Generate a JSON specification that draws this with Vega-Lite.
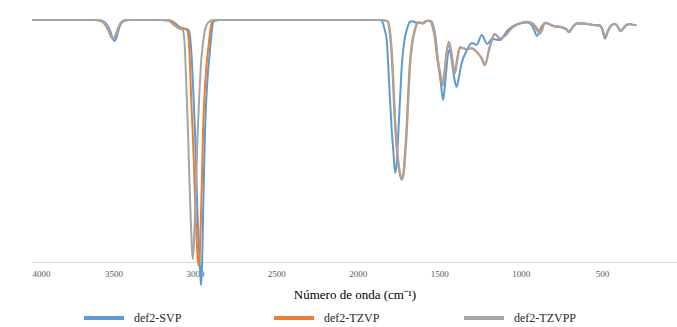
{
"$schema": "https://vega.github.io/schema/vega-lite/v6.json",
"width": 645, "height": 242,
"autosize": {"type": "none"},
"padding": {"left": 32, "top": 20, "right": 0, "bottom": 65},
"background": "white",
"config": {"view": {"stroke": null}},
"data": {"values": [
{"s":"def2-SVP","wn":4000,"t":100},{"s":"def2-SVP","wn":3600,"t":100},{"s":"def2-SVP","wn":3570,"t":99.7},{"s":"def2-SVP","wn":3545,"t":98.5},{"s":"def2-SVP","wn":3520,"t":95.5},{"s":"def2-SVP","wn":3505,"t":92.5},{"s":"def2-SVP","wn":3494,"t":91.3},{"s":"def2-SVP","wn":3482,"t":92.6},{"s":"def2-SVP","wn":3468,"t":96},{"s":"def2-SVP","wn":3450,"t":98.8},{"s":"def2-SVP","wn":3425,"t":99.9},{"s":"def2-SVP","wn":3400,"t":100},{"s":"def2-SVP","wn":3200,"t":100},{"s":"def2-SVP","wn":3150,"t":99.8},{"s":"def2-SVP","wn":3120,"t":98.6},{"s":"def2-SVP","wn":3095,"t":97.2},{"s":"def2-SVP","wn":3070,"t":96.5},{"s":"def2-SVP","wn":3045,"t":96.1},{"s":"def2-SVP","wn":3036,"t":95.5},{"s":"def2-SVP","wn":3028,"t":92},{"s":"def2-SVP","wn":3020,"t":85},{"s":"def2-SVP","wn":3012,"t":74},{"s":"def2-SVP","wn":3005,"t":63},{"s":"def2-SVP","wn":2999,"t":53.3},{"s":"def2-SVP","wn":2992,"t":38},{"s":"def2-SVP","wn":2985,"t":22},{"s":"def2-SVP","wn":2978,"t":10},{"s":"def2-SVP","wn":2972,"t":1},{"s":"def2-SVP","wn":2966,"t":-6},{"s":"def2-SVP","wn":2962,"t":-9.5},{"s":"def2-SVP","wn":2958,"t":-5},{"s":"def2-SVP","wn":2955,"t":1},{"s":"def2-SVP","wn":2950,"t":18},{"s":"def2-SVP","wn":2944,"t":37},{"s":"def2-SVP","wn":2938,"t":53.3},{"s":"def2-SVP","wn":2930,"t":67},{"s":"def2-SVP","wn":2920,"t":78},{"s":"def2-SVP","wn":2907,"t":87.6},{"s":"def2-SVP","wn":2897,"t":95},{"s":"def2-SVP","wn":2889,"t":98.8},{"s":"def2-SVP","wn":2875,"t":99.8},{"s":"def2-SVP","wn":2850,"t":100},{"s":"def2-SVP","wn":1870,"t":100},{"s":"def2-SVP","wn":1853,"t":99.7},{"s":"def2-SVP","wn":1835,"t":96},{"s":"def2-SVP","wn":1822,"t":91.7},{"s":"def2-SVP","wn":1812,"t":80},{"s":"def2-SVP","wn":1802,"t":66.9},{"s":"def2-SVP","wn":1792,"t":55},{"s":"def2-SVP","wn":1782,"t":46.3},{"s":"def2-SVP","wn":1771,"t":36.8},{"s":"def2-SVP","wn":1762,"t":40},{"s":"def2-SVP","wn":1751,"t":53.3},{"s":"def2-SVP","wn":1740,"t":68},{"s":"def2-SVP","wn":1730,"t":80.6},{"s":"def2-SVP","wn":1715,"t":91},{"s":"def2-SVP","wn":1699,"t":95.9},{"s":"def2-SVP","wn":1679,"t":99.3},{"s":"def2-SVP","wn":1661,"t":99.5},{"s":"def2-SVP","wn":1645,"t":99},{"s":"def2-SVP","wn":1628,"t":98.9},{"s":"def2-SVP","wn":1599,"t":98.8},{"s":"def2-SVP","wn":1585,"t":99.3},{"s":"def2-SVP","wn":1569,"t":99.7},{"s":"def2-SVP","wn":1546,"t":99.3},{"s":"def2-SVP","wn":1536,"t":97.5},{"s":"def2-SVP","wn":1526,"t":94.6},{"s":"def2-SVP","wn":1508,"t":83.5},{"s":"def2-SVP","wn":1490,"t":74},{"s":"def2-SVP","wn":1476,"t":66.9},{"s":"def2-SVP","wn":1462,"t":75},{"s":"def2-SVP","wn":1448,"t":85},{"s":"def2-SVP","wn":1436,"t":87.6},{"s":"def2-SVP","wn":1420,"t":82},{"s":"def2-SVP","wn":1405,"t":75},{"s":"def2-SVP","wn":1393,"t":72.4},{"s":"def2-SVP","wn":1380,"t":76},{"s":"def2-SVP","wn":1362,"t":82.2},{"s":"def2-SVP","wn":1335,"t":86.8},{"s":"def2-SVP","wn":1300,"t":90.5},{"s":"def2-SVP","wn":1270,"t":89.7},{"s":"def2-SVP","wn":1239,"t":93.8},{"s":"def2-SVP","wn":1206,"t":90.1},{"s":"def2-SVP","wn":1176,"t":92.2},{"s":"def2-SVP","wn":1126,"t":91.7},{"s":"def2-SVP","wn":1083,"t":95.5},{"s":"def2-SVP","wn":1022,"t":98.3},{"s":"def2-SVP","wn":961,"t":99},{"s":"def2-SVP","wn":932,"t":97.9},{"s":"def2-SVP","wn":915,"t":95.5},{"s":"def2-SVP","wn":901,"t":93.4},{"s":"def2-SVP","wn":888,"t":94.5},{"s":"def2-SVP","wn":875,"t":96.8},{"s":"def2-SVP","wn":858,"t":98.5},{"s":"def2-SVP","wn":849,"t":98.9},{"s":"def2-SVP","wn":830,"t":98.4},{"s":"def2-SVP","wn":800,"t":97.5},{"s":"def2-SVP","wn":749,"t":97},{"s":"def2-SVP","wn":722,"t":96.2},{"s":"def2-SVP","wn":703,"t":95},{"s":"def2-SVP","wn":684,"t":96.6},{"s":"def2-SVP","wn":656,"t":98.6},{"s":"def2-SVP","wn":617,"t":98.6},{"s":"def2-SVP","wn":554,"t":97.9},{"s":"def2-SVP","wn":512,"t":97.6},{"s":"def2-SVP","wn":497,"t":95.6},{"s":"def2-SVP","wn":482,"t":92.3},{"s":"def2-SVP","wn":464,"t":95.3},{"s":"def2-SVP","wn":441,"t":97.9},{"s":"def2-SVP","wn":421,"t":98.3},{"s":"def2-SVP","wn":402,"t":97},{"s":"def2-SVP","wn":387,"t":95.4},{"s":"def2-SVP","wn":369,"t":96.6},{"s":"def2-SVP","wn":347,"t":98.1},{"s":"def2-SVP","wn":328,"t":98.3},{"s":"def2-SVP","wn":305,"t":97.9},{"s":"def2-SVP","wn":290,"t":97.9},
{"s":"def2-TZVP","wn":4000,"t":100},{"s":"def2-TZVP","wn":3610,"t":100},{"s":"def2-TZVP","wn":3578,"t":99.6},{"s":"def2-TZVP","wn":3553,"t":98.2},{"s":"def2-TZVP","wn":3530,"t":95.5},{"s":"def2-TZVP","wn":3514,"t":93},{"s":"def2-TZVP","wn":3503,"t":92.1},{"s":"def2-TZVP","wn":3490,"t":93.2},{"s":"def2-TZVP","wn":3475,"t":96},{"s":"def2-TZVP","wn":3455,"t":98.8},{"s":"def2-TZVP","wn":3430,"t":99.9},{"s":"def2-TZVP","wn":3405,"t":100},{"s":"def2-TZVP","wn":3200,"t":100},{"s":"def2-TZVP","wn":3160,"t":99.8},{"s":"def2-TZVP","wn":3135,"t":99},{"s":"def2-TZVP","wn":3110,"t":97.6},{"s":"def2-TZVP","wn":3090,"t":96.8},{"s":"def2-TZVP","wn":3070,"t":96.5},{"s":"def2-TZVP","wn":3050,"t":96},{"s":"def2-TZVP","wn":3042,"t":94.5},{"s":"def2-TZVP","wn":3036,"t":90},{"s":"def2-TZVP","wn":3028,"t":78},{"s":"def2-TZVP","wn":3020,"t":63},{"s":"def2-TZVP","wn":3013,"t":53.3},{"s":"def2-TZVP","wn":3005,"t":38},{"s":"def2-TZVP","wn":2997,"t":22},{"s":"def2-TZVP","wn":2989,"t":9},{"s":"def2-TZVP","wn":2982,"t":1},{"s":"def2-TZVP","wn":2976,"t":-1.5},{"s":"def2-TZVP","wn":2970,"t":3},{"s":"def2-TZVP","wn":2963,"t":18},{"s":"def2-TZVP","wn":2956,"t":36},{"s":"def2-TZVP","wn":2950,"t":53.3},{"s":"def2-TZVP","wn":2940,"t":70},{"s":"def2-TZVP","wn":2930,"t":80},{"s":"def2-TZVP","wn":2919,"t":87.6},{"s":"def2-TZVP","wn":2908,"t":94},{"s":"def2-TZVP","wn":2897,"t":98.8},{"s":"def2-TZVP","wn":2880,"t":99.8},{"s":"def2-TZVP","wn":2860,"t":100},{"s":"def2-TZVP","wn":1873,"t":100},{"s":"def2-TZVP","wn":1817,"t":99.5},{"s":"def2-TZVP","wn":1806,"t":96},{"s":"def2-TZVP","wn":1794,"t":87.6},{"s":"def2-TZVP","wn":1784,"t":75},{"s":"def2-TZVP","wn":1774,"t":60},{"s":"def2-TZVP","wn":1764,"t":49},{"s":"def2-TZVP","wn":1754,"t":42.1},{"s":"def2-TZVP","wn":1741,"t":36},{"s":"def2-TZVP","wn":1729,"t":34},{"s":"def2-TZVP","wn":1718,"t":38},{"s":"def2-TZVP","wn":1709,"t":46},{"s":"def2-TZVP","wn":1702,"t":53.3},{"s":"def2-TZVP","wn":1693,"t":66},{"s":"def2-TZVP","wn":1682,"t":80.6},{"s":"def2-TZVP","wn":1668,"t":90},{"s":"def2-TZVP","wn":1651,"t":95.9},{"s":"def2-TZVP","wn":1631,"t":98.9},{"s":"def2-TZVP","wn":1613,"t":98.9},{"s":"def2-TZVP","wn":1602,"t":98.6},{"s":"def2-TZVP","wn":1588,"t":99.3},{"s":"def2-TZVP","wn":1572,"t":99.7},{"s":"def2-TZVP","wn":1558,"t":99.6},{"s":"def2-TZVP","wn":1549,"t":99.1},{"s":"def2-TZVP","wn":1539,"t":96.5},{"s":"def2-TZVP","wn":1529,"t":93.5},{"s":"def2-TZVP","wn":1511,"t":83.5},{"s":"def2-TZVP","wn":1493,"t":77},{"s":"def2-TZVP","wn":1480,"t":72.8},{"s":"def2-TZVP","wn":1467,"t":79},{"s":"def2-TZVP","wn":1454,"t":87},{"s":"def2-TZVP","wn":1441,"t":91},{"s":"def2-TZVP","wn":1430,"t":88},{"s":"def2-TZVP","wn":1417,"t":82},{"s":"def2-TZVP","wn":1405,"t":78},{"s":"def2-TZVP","wn":1392,"t":83},{"s":"def2-TZVP","wn":1382,"t":86.9},{"s":"def2-TZVP","wn":1372,"t":88.7},{"s":"def2-TZVP","wn":1352,"t":88.3},{"s":"def2-TZVP","wn":1333,"t":87.9},{"s":"def2-TZVP","wn":1302,"t":88.3},{"s":"def2-TZVP","wn":1272,"t":86.9},{"s":"def2-TZVP","wn":1241,"t":84.3},{"s":"def2-TZVP","wn":1220,"t":81.3},{"s":"def2-TZVP","wn":1190,"t":89},{"s":"def2-TZVP","wn":1159,"t":94.2},{"s":"def2-TZVP","wn":1128,"t":92.4},{"s":"def2-TZVP","wn":1098,"t":93.4},{"s":"def2-TZVP","wn":1057,"t":96.6},{"s":"def2-TZVP","wn":1016,"t":98.3},{"s":"def2-TZVP","wn":965,"t":99.3},{"s":"def2-TZVP","wn":932,"t":98.8},{"s":"def2-TZVP","wn":910,"t":97.5},{"s":"def2-TZVP","wn":895,"t":96},{"s":"def2-TZVP","wn":881,"t":94.4},{"s":"def2-TZVP","wn":870,"t":95.6},{"s":"def2-TZVP","wn":858,"t":98},{"s":"def2-TZVP","wn":845,"t":98.9},{"s":"def2-TZVP","wn":830,"t":98.5},{"s":"def2-TZVP","wn":800,"t":97.6},{"s":"def2-TZVP","wn":749,"t":97},{"s":"def2-TZVP","wn":722,"t":96.3},{"s":"def2-TZVP","wn":703,"t":95.2},{"s":"def2-TZVP","wn":684,"t":96.7},{"s":"def2-TZVP","wn":656,"t":98.6},{"s":"def2-TZVP","wn":617,"t":98.6},{"s":"def2-TZVP","wn":554,"t":97.9},{"s":"def2-TZVP","wn":512,"t":97.7},{"s":"def2-TZVP","wn":497,"t":95.8},{"s":"def2-TZVP","wn":482,"t":92.8},{"s":"def2-TZVP","wn":464,"t":95.5},{"s":"def2-TZVP","wn":441,"t":97.9},{"s":"def2-TZVP","wn":421,"t":98.3},{"s":"def2-TZVP","wn":402,"t":97.1},{"s":"def2-TZVP","wn":387,"t":95.5},{"s":"def2-TZVP","wn":369,"t":96.6},{"s":"def2-TZVP","wn":347,"t":98.1},{"s":"def2-TZVP","wn":328,"t":98.3},{"s":"def2-TZVP","wn":305,"t":97.9},{"s":"def2-TZVP","wn":290,"t":97.9},
{"s":"def2-TZVPP","wn":4000,"t":100},{"s":"def2-TZVPP","wn":3605,"t":100},{"s":"def2-TZVPP","wn":3575,"t":99.7},{"s":"def2-TZVPP","wn":3550,"t":98.4},{"s":"def2-TZVPP","wn":3527,"t":95.7},{"s":"def2-TZVPP","wn":3511,"t":93.2},{"s":"def2-TZVPP","wn":3500,"t":92.3},{"s":"def2-TZVPP","wn":3488,"t":93.4},{"s":"def2-TZVPP","wn":3472,"t":96.2},{"s":"def2-TZVPP","wn":3453,"t":98.9},{"s":"def2-TZVPP","wn":3428,"t":99.9},{"s":"def2-TZVPP","wn":3400,"t":100},{"s":"def2-TZVPP","wn":3180,"t":100},{"s":"def2-TZVPP","wn":3160,"t":99.6},{"s":"def2-TZVPP","wn":3140,"t":98.6},{"s":"def2-TZVPP","wn":3120,"t":97.4},{"s":"def2-TZVPP","wn":3100,"t":96.6},{"s":"def2-TZVPP","wn":3085,"t":96.2},{"s":"def2-TZVPP","wn":3075,"t":95.9},{"s":"def2-TZVPP","wn":3068,"t":94},{"s":"def2-TZVPP","wn":3061,"t":87.6},{"s":"def2-TZVPP","wn":3052,"t":72},{"s":"def2-TZVPP","wn":3042,"t":53.3},{"s":"def2-TZVPP","wn":3033,"t":33},{"s":"def2-TZVPP","wn":3026,"t":18.6},{"s":"def2-TZVPP","wn":3019,"t":7},{"s":"def2-TZVPP","wn":3013,"t":1.3},{"s":"def2-TZVPP","wn":3007,"t":6},{"s":"def2-TZVPP","wn":3000,"t":18.6},{"s":"def2-TZVPP","wn":2991,"t":36},{"s":"def2-TZVPP","wn":2983,"t":53.3},{"s":"def2-TZVPP","wn":2973,"t":69},{"s":"def2-TZVPP","wn":2964,"t":80.6},{"s":"def2-TZVPP","wn":2950,"t":90.5},{"s":"def2-TZVPP","wn":2938,"t":95.9},{"s":"def2-TZVPP","wn":2925,"t":98.3},{"s":"def2-TZVPP","wn":2913,"t":99.2},{"s":"def2-TZVPP","wn":2895,"t":99.9},{"s":"def2-TZVPP","wn":2870,"t":100},{"s":"def2-TZVPP","wn":1870,"t":100},{"s":"def2-TZVPP","wn":1814,"t":99.5},{"s":"def2-TZVPP","wn":1803,"t":96},{"s":"def2-TZVPP","wn":1791,"t":87.6},{"s":"def2-TZVPP","wn":1781,"t":75},{"s":"def2-TZVPP","wn":1771,"t":60},{"s":"def2-TZVPP","wn":1761,"t":49},{"s":"def2-TZVPP","wn":1751,"t":42.1},{"s":"def2-TZVPP","wn":1738,"t":36},{"s":"def2-TZVPP","wn":1726,"t":34.3},{"s":"def2-TZVPP","wn":1715,"t":38},{"s":"def2-TZVPP","wn":1706,"t":46},{"s":"def2-TZVPP","wn":1699,"t":53.3},{"s":"def2-TZVPP","wn":1690,"t":66},{"s":"def2-TZVPP","wn":1679,"t":80.6},{"s":"def2-TZVPP","wn":1665,"t":90},{"s":"def2-TZVPP","wn":1648,"t":95.9},{"s":"def2-TZVPP","wn":1628,"t":98.9},{"s":"def2-TZVPP","wn":1610,"t":98.9},{"s":"def2-TZVPP","wn":1599,"t":98.6},{"s":"def2-TZVPP","wn":1585,"t":99.3},{"s":"def2-TZVPP","wn":1569,"t":99.7},{"s":"def2-TZVPP","wn":1555,"t":99.6},{"s":"def2-TZVPP","wn":1546,"t":99.1},{"s":"def2-TZVPP","wn":1536,"t":96.5},{"s":"def2-TZVPP","wn":1526,"t":93.5},{"s":"def2-TZVPP","wn":1508,"t":83.5},{"s":"def2-TZVPP","wn":1490,"t":77},{"s":"def2-TZVPP","wn":1478,"t":73.1},{"s":"def2-TZVPP","wn":1465,"t":79},{"s":"def2-TZVPP","wn":1452,"t":87},{"s":"def2-TZVPP","wn":1440,"t":90.5},{"s":"def2-TZVPP","wn":1428,"t":88},{"s":"def2-TZVPP","wn":1415,"t":82},{"s":"def2-TZVPP","wn":1403,"t":78},{"s":"def2-TZVPP","wn":1390,"t":83},{"s":"def2-TZVPP","wn":1380,"t":86.9},{"s":"def2-TZVPP","wn":1370,"t":88.7},{"s":"def2-TZVPP","wn":1350,"t":88.3},{"s":"def2-TZVPP","wn":1331,"t":87.9},{"s":"def2-TZVPP","wn":1300,"t":88.3},{"s":"def2-TZVPP","wn":1270,"t":86.9},{"s":"def2-TZVPP","wn":1239,"t":84.3},{"s":"def2-TZVPP","wn":1219,"t":81.8},{"s":"def2-TZVPP","wn":1188,"t":89},{"s":"def2-TZVPP","wn":1157,"t":94.2},{"s":"def2-TZVPP","wn":1126,"t":92.4},{"s":"def2-TZVPP","wn":1096,"t":93.4},{"s":"def2-TZVPP","wn":1055,"t":96.6},{"s":"def2-TZVPP","wn":1014,"t":98.3},{"s":"def2-TZVPP","wn":963,"t":99.3},{"s":"def2-TZVPP","wn":932,"t":98.6},{"s":"def2-TZVPP","wn":915,"t":97.2},{"s":"def2-TZVPP","wn":901,"t":95.9},{"s":"def2-TZVPP","wn":888,"t":94.6},{"s":"def2-TZVPP","wn":876,"t":95.5},{"s":"def2-TZVPP","wn":862,"t":97.9},{"s":"def2-TZVPP","wn":849,"t":98.9},{"s":"def2-TZVPP","wn":830,"t":98.5},{"s":"def2-TZVPP","wn":800,"t":97.6},{"s":"def2-TZVPP","wn":749,"t":97},{"s":"def2-TZVPP","wn":722,"t":96.3},{"s":"def2-TZVPP","wn":703,"t":95.3},{"s":"def2-TZVPP","wn":684,"t":96.7},{"s":"def2-TZVPP","wn":656,"t":98.6},{"s":"def2-TZVPP","wn":617,"t":98.6},{"s":"def2-TZVPP","wn":554,"t":97.9},{"s":"def2-TZVPP","wn":512,"t":97.7},{"s":"def2-TZVPP","wn":497,"t":95.9},{"s":"def2-TZVPP","wn":482,"t":93},{"s":"def2-TZVPP","wn":464,"t":95.5},{"s":"def2-TZVPP","wn":441,"t":97.9},{"s":"def2-TZVPP","wn":421,"t":98.3},{"s":"def2-TZVPP","wn":402,"t":97.1},{"s":"def2-TZVPP","wn":387,"t":95.5},{"s":"def2-TZVPP","wn":369,"t":96.6},{"s":"def2-TZVPP","wn":347,"t":98.1},{"s":"def2-TZVPP","wn":328,"t":98.3},{"s":"def2-TZVPP","wn":305,"t":97.9},{"s":"def2-TZVPP","wn":290,"t":97.9}
]},
"mark": {"type": "line", "interpolate": "monotone", "strokeWidth": 2, "clip": false},
"encoding": {
"x": {"field": "wn", "type": "quantitative",
  "scale": {"domain": [40, 4000], "reverse": true, "nice": false, "zero": false},
  "axis": {"values": [4000, 3500, 3000, 2500, 2000, 1500, 1000, 500], "format": "d", "grid": false, "ticks": false, "tickSize": 0,
    "domainColor": "#d9d9d9", "domainWidth": 1, "labelFont": "'Liberation Serif', serif", "labelFontSize": 9, "labelColor": "#595959",
    "labelPadding": 7, "title": "Número de onda (cm⁻¹)", "titleFont": "'Liberation Serif', serif", "titleFontSize": 13, "titleFontWeight": "normal",
    "titleColor": "#000000", "titlePadding": 10}},
"y": {"field": "t", "type": "quantitative", "scale": {"domain": [0, 100], "nice": false, "zero": false}, "axis": null},
"color": {"field": "s", "type": "nominal",
  "scale": {"domain": ["def2-SVP", "def2-TZVP", "def2-TZVPP"], "range": ["#5B9BD5", "#ED7D31", "#A5A5A5"]},
  "legend": {"title": null, "orient": "none", "legendX": 50, "legendY": 276, "direction": "horizontal", "columns": 3, "gridAlign": "all",
    "columnPadding": 70, "symbolType": "stroke", "symbolSize": 1600, "symbolStrokeWidth": 4, "labelFont": "'Liberation Serif', serif",
    "labelFontSize": 12, "labelColor": "#262626", "labelOffset": 8, "padding": 0}}
}
}
